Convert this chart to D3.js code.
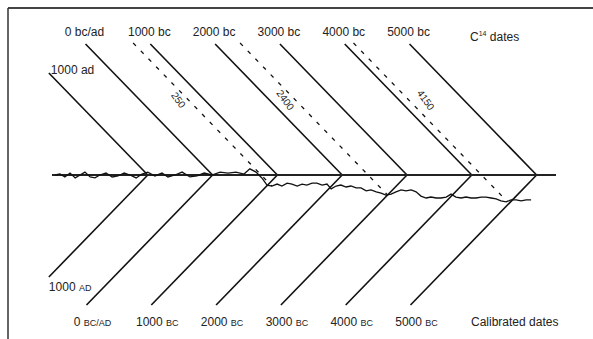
<!DOCTYPE html>
<html><head><meta charset="utf-8">
<script src="https://cdn.jsdelivr.net/npm/d3@7"></script>
<style>body{margin:0;background:#fff}svg{display:block}</style>
</head><body>
<svg id="chart" width="593" height="339"></svg>
<script>
// ---- data ----
// dates in years BC (negative = AD)
const dates = [-1000, 0, 1000, 2000, 3000, 4000, 5000];
const c14Labels = ["1000 ad", "0 bc/ad", "1000 bc", "2000 bc", "3000 bc", "4000 bc", "5000 bc"];
const calNumbers = ["1000", "0", "1000", "2000", "3000", "4000", "5000"];
const calEras = ["AD", "BC/AD", "BC", "BC", "BC", "BC", "BC"];
const exampleC14 = [750, 2400, 4150];
const exampleLabels = ["250", "2400", "4150"];
// calibration curve: calendar year (BC) and offset of the radiocarbon date (years)
const curveYear = [-2430,-2355,-2280,-2200,-2120,-2045,-1970,-1890,-1815,-1740,-1645,-1550,-1460,-1365,-1275,-1180,-1090,-1000,-890,-780,-690,-580,-470,-350,-240,-130,-10,115,240,360,485,575,670,760,840,915,995,1070,1150,1225,1305,1380,1455,1535,1610,1690,1765,1830,1905,1980,2060,2135,2215,2290,2370,2445,2525,2600,2675,2755,2830,2910,2985,3065,3140,3215,3295,3370,3450,3525,3605,3680,3755,3835,3910,3990,4065,4145,4220,4300,4375,4450,4530,4605,4685,4760,4840,4915];
const curveOffset = [0,-15,30,-30,45,0,-45,30,45,0,-30,30,15,-30,0,45,-15,-45,15,-30,30,0,-45,30,15,-30,0,-45,-30,-45,-15,-95,-45,45,155,170,140,170,125,140,170,140,155,125,125,155,140,215,170,155,185,170,200,200,245,230,260,280,310,295,260,230,245,230,260,325,355,340,355,355,340,295,340,355,340,355,355,340,340,355,370,400,415,385,385,400,385,385];

// ---- layout ----
const W = 593, H = 339;
const baseY = 175, topY = 44, botY = 305, adTopY = 73, adBotY = 277;
const k = 0.97; // horizontal run per vertical px of the slanted lines
const font = "'Liberation Sans', Arial, sans-serif";

const x = d3.scaleLinear().domain([0, 5000]).range([212.6, 536.6]);
const off = d3.scaleLinear().domain([0, 1000]).range([baseY, baseY + 64.8]);

const svg = d3.select("#chart");
svg.append("rect").attr("width", W).attr("height", H).attr("fill", "#fff");

// frame
svg.append("line").attr("x1", 8).attr("y1", 8).attr("x2", W).attr("y2", 8)
  .attr("stroke", "#444").attr("stroke-width", 2);
svg.append("line").attr("x1", 8).attr("y1", 8).attr("x2", 8).attr("y2", H)
  .attr("stroke", "#333").attr("stroke-width", 1.5);

const ink = "#111";
const slantX = (d, y) => x(d) + k * (y - baseY);

// top (radiocarbon) lines
svg.append("g").selectAll("line").data(dates).join("line")
  .attr("x1", d => slantX(d, d < 0 ? adTopY : topY))
  .attr("y1", d => d < 0 ? adTopY : topY)
  .attr("x2", d => x(d)).attr("y2", baseY)
  .attr("stroke", ink).attr("stroke-width", 1.6);

// bottom (calendar) lines
svg.append("g").selectAll("line").data(dates).join("line")
  .attr("x1", d => x(d)).attr("y1", baseY)
  .attr("x2", d => x(d) - k * ((d < 0 ? adBotY : botY) - baseY))
  .attr("y2", d => d < 0 ? adBotY : botY)
  .attr("stroke", ink).attr("stroke-width", 1.6);

// baseline
svg.append("line").attr("x1", 52).attr("y1", baseY).attr("x2", 556).attr("y2", baseY)
  .attr("stroke", "#222").attr("stroke-width", 2.2);

// calibration curve
const pts = curveYear.map((yr, i) => [x(yr), off(curveOffset[i])]);
svg.append("path").attr("d", d3.line()(pts))
  .attr("fill", "none").attr("stroke", ink).attr("stroke-width", 1.3);

// example radiocarbon dates, dashed down to the curve
function hitCurve(d) {
  const f = p => p[0] - slantX(d, p[1]);
  for (let i = 1; i < pts.length; i++) {
    const a = f(pts[i - 1]), b = f(pts[i]);
    if (a < 0 && b >= 0) {
      const t = a / (a - b);
      return [pts[i - 1][0] + t * (pts[i][0] - pts[i - 1][0]), pts[i - 1][1] + t * (pts[i][1] - pts[i - 1][1])];
    }
  }
  return [x(d), baseY];
}
const exTopY = 43;
svg.append("g").selectAll("line").data(exampleC14).join("line")
  .attr("x1", d => slantX(d, exTopY)).attr("y1", exTopY)
  .attr("x2", d => hitCurve(d)[0]).attr("y2", d => hitCurve(d)[1])
  .attr("stroke", ink).attr("stroke-width", 1.3).attr("stroke-dasharray", "4,7");

const labelDx = [-10, -10, 17];
svg.append("g").selectAll("text").data(exampleC14).join("text")
  .attr("transform", (d, i) => `translate(${slantX(d, 100) + labelDx[i]},100) rotate(55)`)
  .attr("text-anchor", "middle").attr("dy", "0.35em")
  .attr("font-family", font).attr("font-size", 10).attr("fill", "#222")
  .text((d, i) => exampleLabels[i]);

// top labels
svg.append("g").selectAll("text").data(dates).join("text")
  .attr("x", d => d < 0 ? slantX(d, adTopY) + 2 : slantX(d, topY) - 1)
  .attr("y", d => d < 0 ? 74 : 36)
  .attr("text-anchor", d => d < 0 ? "start" : "middle")
  .attr("font-family", font).attr("font-size", 12).attr("fill", "#222")
  .text((d, i) => c14Labels[i]);

const c14t = svg.append("text").attr("x", 470).attr("y", 41)
  .attr("font-family", font).attr("font-size", 12).attr("fill", "#222");
c14t.append("tspan").text("C");
c14t.append("tspan").attr("font-size", 7).attr("dy", -5).text("14");
c14t.append("tspan").attr("dy", 5).text(" dates");

// bottom labels
const bl = svg.append("g").selectAll("text").data(dates).join("text")
  .attr("x", d => d < 0 ? x(d) - k * (adBotY - baseY) : x(d) - k * (botY - baseY) + 6)
  .attr("y", d => d < 0 ? 291 : 326)
  .attr("text-anchor", d => d < 0 ? "start" : "middle")
  .attr("font-family", font).attr("font-size", 12).attr("fill", "#222");
bl.append("tspan").text((d, i) => calNumbers[i] + " ");
bl.append("tspan").attr("font-size", 9).text((d, i) => calEras[i]);

svg.append("text").attr("x", 471).attr("y", 326)
  .attr("font-family", font).attr("font-size", 12).attr("fill", "#222")
  .text("Calibrated dates");
</script>
</body></html>
